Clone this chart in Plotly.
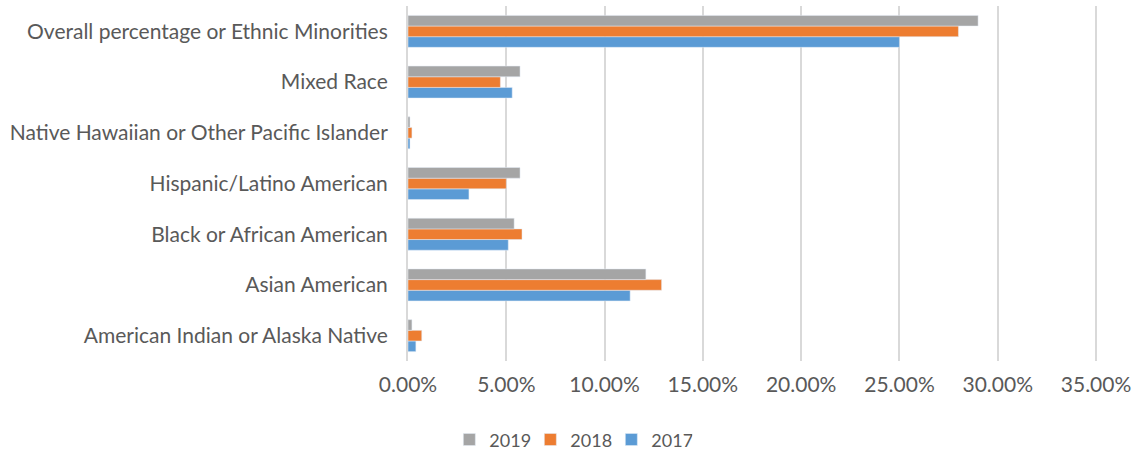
import plotly.graph_objects as go

categories = ["American Indian or Alaska Native", "Asian American", "Black or African American",
              "Hispanic/Latino American", "Native Hawaiian or Other Pacific Islander",
              "Mixed Race", "Overall percentage or Ethnic Minorities"]
y2017 = [0.004, 0.113, 0.051, 0.031, 0.001, 0.053, 0.25]
y2018 = [0.007, 0.129, 0.058, 0.050, 0.002, 0.047, 0.28]
y2019 = [0.002, 0.121, 0.054, 0.057, 0.001, 0.057, 0.29]
tick_vals = [0, 0.05, 0.10, 0.15, 0.20, 0.25, 0.30, 0.35]

fig = go.Figure()
fig.add_trace(go.Bar(y=categories, x=y2017, name="2017", orientation="h", marker_color="#5b9bd5"))
fig.add_trace(go.Bar(y=categories, x=y2018, name="2018", orientation="h", marker_color="#ed7d31"))
fig.add_trace(go.Bar(y=categories, x=y2019, name="2019", orientation="h", marker_color="#a5a5a5"))

fig.update_layout(
    width=1136, height=455,
    barmode="group", bargap=0.37, bargroupgap=0,
    plot_bgcolor="white", paper_bgcolor="white",
    margin=dict(l=408, r=38, t=6, b=94, autoexpand=False),
    font=dict(family="Lato, Open Sans, sans-serif", size=21, color="#595959"),
    legend=dict(orientation="h", traceorder="reversed", x=0.236, xanchor="center",
                y=-0.222, yanchor="middle", font=dict(size=18),
                entrywidth=36, entrywidthmode="pixels"),
)
fig.update_xaxes(range=[0, 0.351], tickvals=tick_vals, tickformat=".2%",
                 showgrid=True, gridcolor="#d9d9d9", gridwidth=2, zeroline=False,
                 tickfont=dict(size=21), ticklabelstandoff=9, automargin=False)
fig.update_yaxes(showline=True, linecolor="#d9d9d9", linewidth=2, ticks="",
                 ticklabelstandoff=14, automargin=False)

# drop the browser's default body margin so the figure fills the window
fig.write_html("out.html", config={"displayModeBar": False},
               post_script="document.body.style.margin = '0';")
